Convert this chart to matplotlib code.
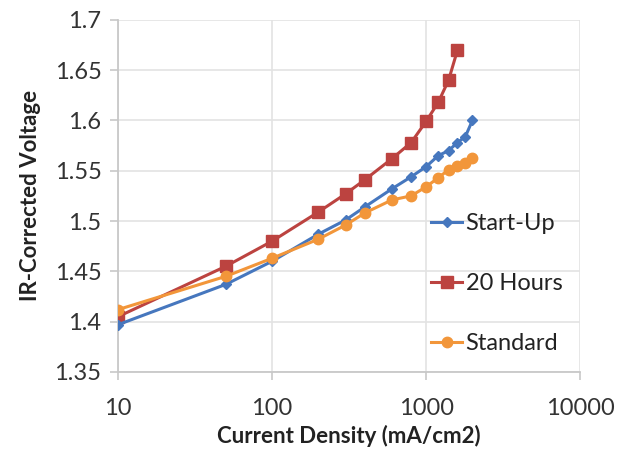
import matplotlib
matplotlib.use("Agg")
import matplotlib.pyplot as plt
from matplotlib.ticker import FixedLocator, FixedFormatter

plt.rcParams['font.family'] = ['Lato', 'DejaVu Sans']

# current density (mA/cm2)
x_start = [10, 50, 100, 200, 300, 400, 600, 800, 1000, 1200, 1400, 1600, 1800, 2000]
y_start = [1.397, 1.437, 1.460, 1.487, 1.501, 1.514, 1.532, 1.544, 1.554,
           1.565, 1.570, 1.578, 1.584, 1.600]

x_20h = [10, 50, 100, 200, 300, 400, 600, 800, 1000, 1200, 1400, 1600]
y_20h = [1.405, 1.455, 1.480, 1.509, 1.527, 1.541, 1.562, 1.578, 1.599,
         1.618, 1.640, 1.670]

x_std = [10, 50, 100, 200, 300, 400, 600, 800, 1000, 1200, 1400, 1600, 1800, 2000]
y_std = [1.412, 1.445, 1.463, 1.482, 1.496, 1.508, 1.521, 1.525, 1.534,
         1.543, 1.551, 1.555, 1.558, 1.563]

y_ticks = [1.35, 1.4, 1.45, 1.5, 1.55, 1.6, 1.65, 1.7]
y_tick_labels = ['1.35', '1.4', '1.45', '1.5', '1.55', '1.6', '1.65', '1.7']
x_ticks = [10, 100, 1000, 10000]
x_tick_labels = ['10', '100', '1000', '10000']

fig = plt.figure(figsize=(6.22, 4.62), dpi=100)
ax = fig.add_axes([0.19, 0.195, 0.7425, 0.762])

ax.plot(x_start, y_start, color='#4677BE', lw=2.2, marker='D', ms=5,
        label='Start-Up', zorder=4)
ax.plot(x_20h, y_20h, color='#BC4340', lw=2.2, marker='s', ms=8,
        label='20 Hours', zorder=3)
ax.plot(x_std, y_std, color='#F2963A', lw=2.2, marker='o', ms=7.5,
        label='Standard', zorder=5)

ax.set_xscale('log')
ax.set_xlim(10, 10000)
ax.set_ylim(1.35, 1.7)
ax.xaxis.set_major_locator(FixedLocator(x_ticks))
ax.xaxis.set_major_formatter(FixedFormatter(x_tick_labels))
ax.xaxis.set_minor_locator(FixedLocator([]))
ax.yaxis.set_major_locator(FixedLocator(y_ticks))
ax.yaxis.set_major_formatter(FixedFormatter(y_tick_labels))

ax.grid(True, color='#e3e3e3', lw=1.2)
ax.set_axisbelow(True)
for side in ['top', 'right']:
    ax.spines[side].set_visible(False)
for side in ['left', 'bottom']:
    ax.spines[side].set_color('#c8c8c8')
    ax.spines[side].set_linewidth(1.3)
ax.tick_params(axis='both', direction='out', length=6, width=1.2,
               color='#c8c8c8', labelsize=17, labelcolor='#333333', pad=6)
ax.tick_params(axis='x', pad=13)

ax.set_xlabel('Current Density (mA/cm2)', fontsize=16, fontweight='bold',
              color='#222222', labelpad=4)
ax.set_ylabel('IR-Corrected Voltage', fontsize=16, fontweight='bold',
              color='#222222', labelpad=10)

ax.legend(loc='center left', bbox_to_anchor=(0.632, 0.25), frameon=False,
          fontsize=17, handlelength=1.3, handletextpad=0.15, labelspacing=1.65,
          labelcolor='#222222')

fig.savefig('out.png', dpi=100)
